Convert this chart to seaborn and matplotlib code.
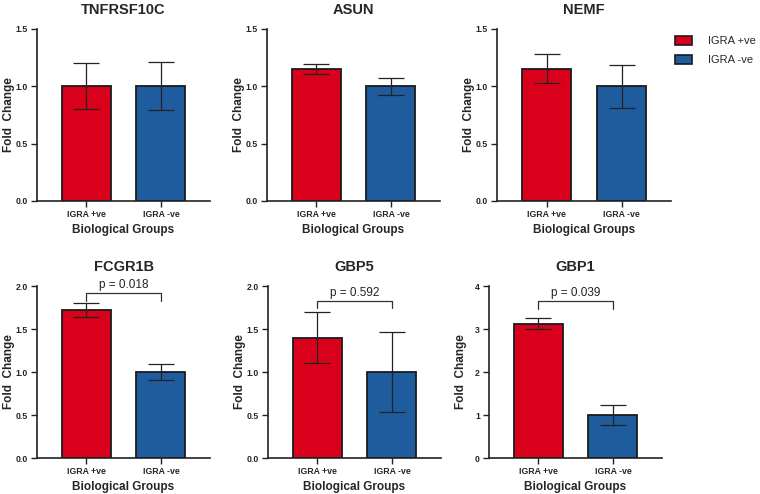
import matplotlib
matplotlib.use("Agg")
import matplotlib.pyplot as plt
import seaborn as sns
import pandas as pd
from matplotlib.patches import Patch

sns.set_style("ticks")
plt.rcParams['font.family'] = ['Liberation Sans', 'DejaVu Sans']

groups = ["IGRA +ve", "IGRA -ve"]
genes = ["TNFRSF10C", "ASUN", "NEMF", "FCGR1B", "GBP5", "GBP1"]
pos_mean = [1.00, 1.15, 1.155, 1.725, 1.40, 3.12]
pos_err = [0.20, 0.045, 0.13, 0.08, 0.30, 0.13]
neg_mean = [1.00, 1.00, 1.00, 1.00, 1.00, 1.00]
neg_err = [0.21, 0.075, 0.19, 0.09, 0.46, 0.235]
pvals = [None, None, None, "p = 0.018", "p = 0.592", "p = 0.039"]
ymax = [1.5, 1.5, 1.5, 2.0, 2.0, 4.0]
ystep = [0.5, 0.5, 0.5, 0.5, 0.5, 1.0]
bracket_y = [None, None, None, 1.92, 1.83, 3.65]
bracket_drop = [None, None, None, 0.09, 0.09, 0.18]

colors = {"IGRA +ve": "#D9001B", "IGRA -ve": "#1F5C9E"}

W, H = 760, 494
fig = plt.figure(figsize=(W / 100, H / 100), dpi=100)

# pixel boxes (left, top, right, bottom)
boxes = [(37, 29, 210, 201), (267, 29, 440, 201), (497, 29, 671, 201),
         (37, 286, 210, 458), (268, 286, 441, 458), (489, 286, 662, 458)]

for i, g in enumerate(genes):
    l, t, r, b = boxes[i]
    ax = fig.add_axes([l / W, 1 - b / H, (r - l) / W, (b - t) / H])
    df = pd.DataFrame({"group": groups, "value": [pos_mean[i], neg_mean[i]]})
    sns.barplot(data=df, x="group", y="value", hue="group", palette=colors,
                order=groups, hue_order=groups, width=0.66, legend=False,
                saturation=1, edgecolor="#1a1a1a", linewidth=1.3, ax=ax, zorder=2)
    ax.errorbar([0, 1], [pos_mean[i], neg_mean[i]], yerr=[pos_err[i], neg_err[i]],
                fmt="none", ecolor="#222222", elinewidth=0.9, capsize=9.5,
                capthick=0.9, zorder=3)
    ax.set_xlim(-0.665, 1.66)
    ax.set_ylim(0, ymax[i])
    n = int(round(ymax[i] / ystep[i]))
    ticks = [k * ystep[i] for k in range(n + 1)]
    ax.set_yticks(ticks)
    if ystep[i] >= 1:
        ax.set_yticklabels([f"{v:.0f}" for v in ticks])
    else:
        ax.set_yticklabels([f"{v:.1f}" for v in ticks])
    for lab in ax.get_yticklabels() + ax.get_xticklabels():
        lab.set_fontweight("bold")
        lab.set_fontsize(6.3)
    ax.tick_params(axis="both", direction="out", length=4, width=1.0,
                   color="#222222", pad=2.5)
    sns.despine(ax=ax)
    for s in ["left", "bottom"]:
        ax.spines[s].set_linewidth(1.2)
        ax.spines[s].set_color("#222222")
    ax.set_title(g, fontsize=10.5, fontweight="bold", pad=11)
    ax.set_xlabel("Biological Groups", fontsize=8.5, fontweight="bold")
    ax.xaxis.set_label_coords(0.5, -29 / (b - t), transform=ax.transAxes)
    ax.set_ylabel("Fold  Change", fontsize=8.5, fontweight="bold")
    ax.yaxis.set_label_coords(-28 / (r - l), 0.5, transform=ax.transAxes)
    ax.xaxis.label.set_va("center")
    ax.yaxis.label.set_va("center")
    if pvals[i]:
        yb = bracket_y[i]
        d = bracket_drop[i]
        ax.plot([0, 0, 1, 1], [yb - d, yb, yb, yb - d], color="#333333",
                lw=0.9, clip_on=False, zorder=4)
        ax.text(0.5, yb + 0.012 * ymax[i], pvals[i], ha="center", va="bottom",
                fontsize=8.5, color="#222222")

handles = [Patch(facecolor=colors[g], edgecolor="#1a1a1a", linewidth=1.2, label=g)
           for g in groups]
fig.legend(handles=handles, loc="upper left", bbox_to_anchor=(665 / W, 1 - 26 / H),
           frameon=False, fontsize=8, handlelength=1.55, handleheight=0.9,
           handletextpad=1.4, labelspacing=0.75)

fig.savefig("out.png", dpi=100)
